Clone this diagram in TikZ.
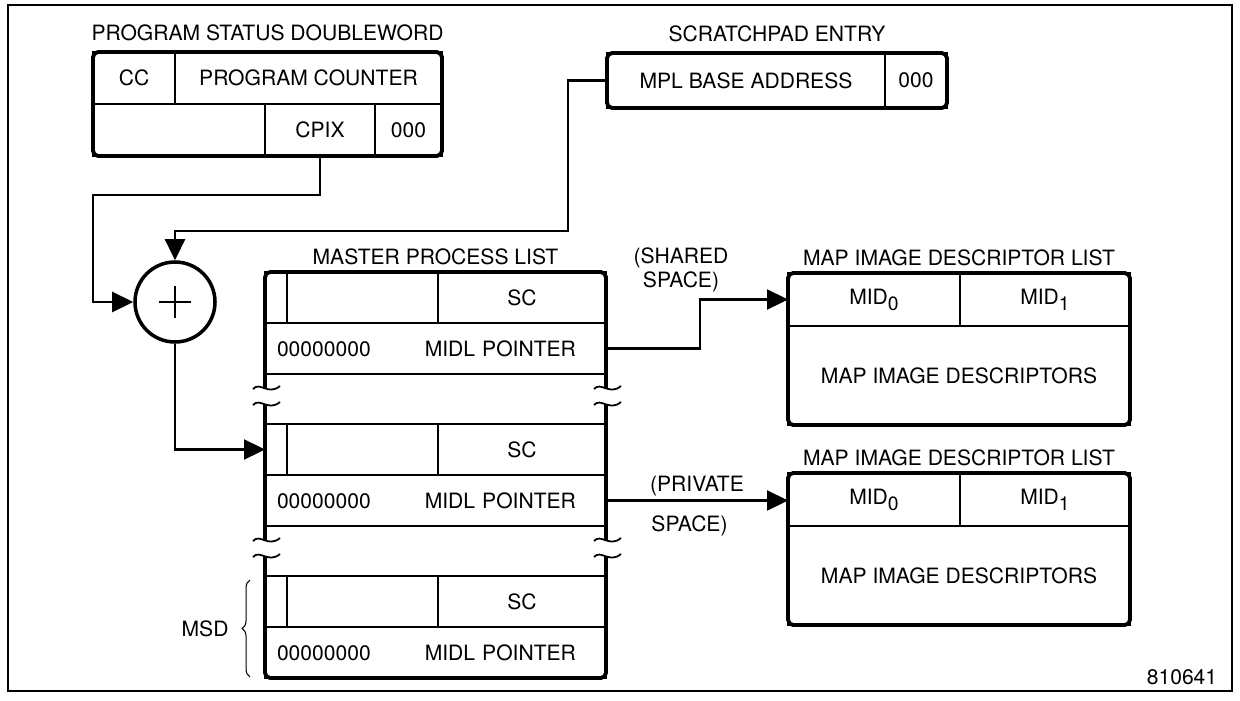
\documentclass[tikz,border=0pt]{standalone}
\usepackage{fontspec}
\setmainfont{TeX Gyre Heros}
\usepackage{tikz}
\usetikzlibrary{arrows.meta, positioning, calc, fit, decorations.pathreplacing}

\begin{document}
\begin{tikzpicture}[
    font=\fontsize{12}{14}\selectfont,
    fld/.style={draw, line width=1pt, inner sep=0pt, outer sep=0pt,
                minimum height=1.04cm, anchor=north west},
    rim/.style={draw, line width=2.2pt, rounded corners=3pt, inner sep=0pt},
    rimln/.style={line width=2.2pt, rounded corners=3pt},
    ttl/.style={inner sep=0pt, anchor=south},
    lbl/.style={inner sep=0pt},
    conn/.style={line width=1.3pt},
    tip/.style={-{Triangle[length=4.2mm, width=4mm]}},
    brk/.style={line width=1pt}
  ]
    \useasboundingbox (0,0) rectangle (24.8,-14);
    \draw[line width=1pt] (0.16,-0.1) rectangle (24.64,-13.82);

    \node[fld, minimum width=1.64cm] (cc) at (1.86,-1.04) {CC};
    \node[fld, minimum width=5.34cm, right=0pt of cc] (pc) {PROGRAM COUNTER};
    \node[fld, minimum width=3.44cm] (psdgap) at (cc.south west) {};
    \node[fld, minimum width=2.20cm, right=0pt of psdgap] (cpix) {CPIX};
    \node[fld, minimum width=1.34cm, right=0pt of cpix] (psdz) {000};
    \node[rim, fit=(cc)(psdz)] (psd) {};
    \node[ttl, above=0.18cm of psd] (psdt) {PROGRAM STATUS DOUBLEWORD};

    \node[fld, minimum height=1.1cm, minimum width=5.56cm] (mpl) at (12.14,-1.06) {MPL BASE ADDRESS};
    \node[fld, minimum height=1.1cm, minimum width=1.24cm, right=0pt of mpl] (spz) {000};
    \node[rim, fit=(mpl)(spz)] (spe) {};
    \node[ttl, above=0.18cm of spe] (spet) {SCRATCHPAD ENTRY};

    \node[circle, draw, line width=2pt, minimum size=1.6cm, inner sep=0pt] (add) at (3.5,-6.04) {};
    \draw[line width=1.2pt] ([xshift=-0.32cm]add.center) -- ([xshift=0.32cm]add.center)
                            ([yshift=-0.32cm]add.center) -- ([yshift=0.32cm]add.center);

    \foreach \i/\y in {1/-5.44, 2/-8.48, 3/-11.52} {
      \node[fld, minimum height=1.02cm, minimum width=0.44cm] (flag\i) at (5.3,\y) {};
      \node[fld, minimum height=1.02cm, minimum width=3.02cm, right=0pt of flag\i] (blk\i) {};
      \node[fld, minimum height=1.02cm, minimum width=3.36cm, right=0pt of blk\i] (sc\i) {SC};
      \node[fld, minimum height=1.02cm, text width=6.34cm, inner xsep=0.24cm, align=left]
        (midl\i) at (flag\i.south west) {00000000\hspace{1.08cm}MIDL POINTER};
    }
    \draw[rimln] ([yshift=-0.28cm]midl1.south west) -- (flag1.north west)
      -- (sc1.north east) -- ([yshift=-0.28cm]midl1.south east);
    \draw[rimln] ([yshift=0.4cm]flag2.north west) -- ([yshift=-0.28cm]midl2.south west);
    \draw[rimln] ([yshift=0.4cm]sc2.north east) -- ([yshift=-0.28cm]midl2.south east);
    \draw[rimln] ([yshift=0.4cm]flag3.north west) -- (midl3.south west)
      -- (midl3.south east) -- ([yshift=0.4cm]sc3.north east);
    \foreach \x in {5.3, 12.12}
      \foreach \y in {-7.76, -8.08, -10.8, -11.12}
        \draw[brk] (\x-0.24,\y-0.02) .. controls (\x-0.1,\y+0.14) and (\x+0.06,\y-0.16) .. (\x+0.3,\y+0.04);
    \node[ttl] (mplt) at ($(flag1.north west)!0.5!(sc1.north east)+(0,0.14)$) {MASTER PROCESS LIST};

    \draw[line width=0.6pt, decorate, decoration={brace, amplitude=4.5pt}]
      (5.0,-13.54) -- (5.0,-11.6) node[midway, lbl, left=0.42cm] (msd) {MSD};

    \foreach \j/\y in {a/-5.46, b/-9.46} {
      \node[fld, minimum height=1.06cm, minimum width=3.44cm] (mid0\j) at (15.76,\y)
        {MID\raisebox{-0.55ex}{\fontsize{11}{12}\selectfont 0}};
      \node[fld, minimum height=1.06cm, minimum width=3.40cm, right=0pt of mid0\j] (mid1\j)
        {MID\raisebox{-0.55ex}{\fontsize{11}{12}\selectfont 1}};
      \node[fld, minimum height=1.98cm, minimum width=6.84cm] (mids\j) at (mid0\j.south west)
        {MAP IMAGE DESCRIPTORS};
      \node[rim, fit=(mid0\j)(mids\j)] (mdl\j) {};
      \node[ttl, above=0.1cm of mdl\j] (mdlt\j) {MAP IMAGE DESCRIPTOR LIST};
    }

    \draw[conn, tip] (cpix.south) -- ++(0,-0.78) -| ([xshift=-0.8cm]add.west) -- (add.west);
    \draw[conn, tip] (mpl.west) -- ++(-0.78,0) |- ([yshift=0.58cm]add.north) -- (add.north);
    \draw[conn, tip] (add.south) |- (flag2.west);
    \draw[conn, tip] (midl1.east) -- ++(1.88,0) |- (mid0a.west);
    \draw[conn, tip] (midl2.east) -- (midl2.east -| mid0b.west)
      node[midway, lbl, above=0.06cm] (prv1) {(PRIVATE}
      node[midway, lbl, below=0.28cm, xshift=-0.15cm] (prv2) {SPACE)};
    \node[lbl, align=center] (shr) at (13.62,-5.4) {(SHARED\\SPACE)};
    \node[lbl] (fig) at (23.64,-13.54) {810641};
  \end{tikzpicture}
\end{document}
